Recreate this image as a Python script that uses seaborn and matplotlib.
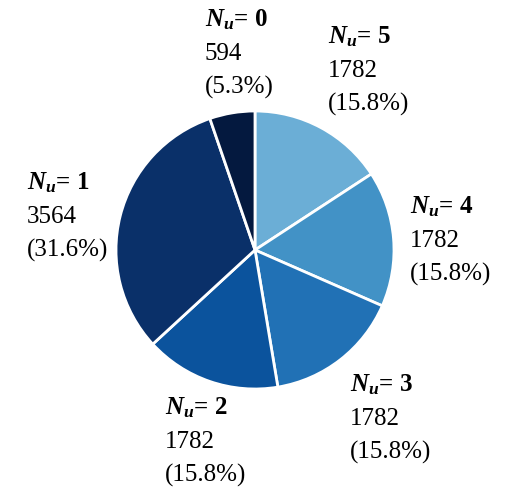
import matplotlib
matplotlib.use("Agg")
import matplotlib.pyplot as plt
import seaborn as sns

# 데이터
nu_values = [5, 4, 3, 2, 1, 0]
counts = [1782, 1782, 1782, 1782, 3564, 594]
colors = ["#6baed6", "#4292c6", "#2171b5", "#0b539d", "#0a3069", "#04193f"]

# 라벨 위치 (픽셀, 왼쪽 위 기준, 첫 줄 중심)
label_pos = {5: (328, 37), 4: (410, 207), 3: (350, 385), 2: (165, 408), 1: (27, 183), 0: (205, 20)}

sns.set_theme(style="white")
plt.rcParams['font.family'] = ['Liberation Serif', 'DejaVu Serif']
plt.rcParams['text.color'] = 'black'
plt.rcParams['mathtext.fontset'] = 'custom'
plt.rcParams['mathtext.rm'] = 'Liberation Serif'
plt.rcParams['mathtext.bfit'] = 'Liberation Serif:italic:bold'
plt.rcParams['mathtext.it'] = 'Liberation Serif:italic'
plt.rcParams['mathtext.bf'] = 'Liberation Serif:bold'

W, H = 515, 491
cx, cy, r = 255, 250, 139

fig = plt.figure(figsize=(W / 100, H / 100), dpi=100)
ax = fig.add_axes([0, 0, 1, 1])
ax.pie(counts, colors=colors, startangle=90, counterclock=False, radius=1,
       wedgeprops=dict(edgecolor="white", linewidth=2))
ax.set_xlim(-cx / r, (W - cx) / r)
ax.set_ylim(-(H - cy) / r, cy / r)
ax.set_aspect("auto")
ax.axis("off")

total = sum(counts)
for nu, c in zip(nu_values, counts):
    px, py = label_pos[nu]
    fig.text(px / W, 1 - py / H, r"$\mathbfit{N}_{\mathbfit{u}}$" + f"= {nu}",
             fontsize=18, fontweight="bold", ha="left", va="center")
    fig.text(px / W, 1 - (py + 34) / H, f"{c}", fontsize=18, ha="left", va="center")
    fig.text(px / W, 1 - (py + 67) / H, f"({c / total * 100:.1f}%)",
             fontsize=18, ha="left", va="center")

fig.savefig("out.png", dpi=100)
